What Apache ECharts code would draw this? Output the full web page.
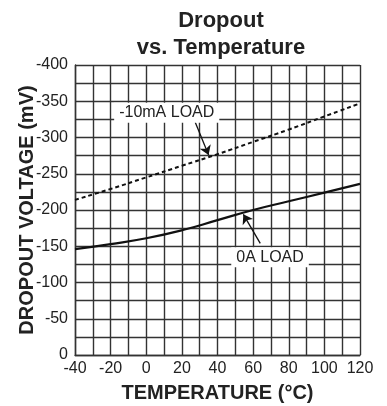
<!DOCTYPE html>
<html>
<head>
<meta charset="utf-8">
<script src="https://cdn.jsdelivr.net/npm/echarts@6/dist/echarts.min.js"></script>
<style>
  html, body { margin: 0; padding: 0; background: #fff; }
  #chart { width: 387px; height: 406px; }
</style>
</head>
<body>
<div id="chart"></div>
<script>
// temperatures (°C)
const temps = [-40, -20, 0, 20, 40, 60, 80, 100, 120];
// dropout voltage (mV)
const load10mA = [-214, -229, -245, -261, -277, -294, -311, -329, -347];
const load0A = [-146, -153, -161, -172, -186, -200, -212, -224, -236];

const FONT = 'Liberation Sans, Arial, sans-serif';

function pairs(xs, ys) {
    return xs.map((x, i) => [x, ys[i]]);
}

function arrow(from, to) {
    return [{ coord: from, symbol: 'none' }, { coord: to, symbol: 'arrow' }];
}

function tag(text, at) {
    return {
        coord: at,
        symbol: 'rect',
        symbolSize: 0,
        label: {
            show: true,
            formatter: text,
            position: 'inside',
            color: '#222',
            fontFamily: FONT,
            fontSize: 16,
            backgroundColor: '#fff',
            padding: [2, 5]
        }
    };
}

let myChart = echarts.init(document.getElementById('chart'));
myChart.setOption({
    animation: false,
    title: {
        text: 'Dropout\nvs. Temperature',
        left: 216,
        top: 2,
        textAlign: 'center',
        textStyle: { fontFamily: FONT, fontWeight: 'bold', fontSize: 22, lineHeight: 27, color: '#222' }
    },
    grid: { left: 75, right: 27, top: 65, bottom: 51, outerBoundsMode: 'none' },
    xAxis: {
        type: 'value',
        min: -40, max: 120, interval: 20,
        name: 'TEMPERATURE (°C)',
        nameLocation: 'middle',
        nameGap: 28,
        nameMoveOverlap: false,
        nameTextStyle: { fontFamily: FONT, fontWeight: 'bold', fontSize: 20, color: '#222' },
        axisLine: { show: true, onZero: false, lineStyle: { color: '#333', width: 1.4 } },
        axisTick: { show: false },
        axisLabel: { fontFamily: FONT, fontSize: 16, color: '#222', margin: 6 },
        splitLine: { show: true, lineStyle: { color: '#333', width: 1.4 } },
        minorTick: { show: false, splitNumber: 2 },
        minorSplitLine: { show: true, lineStyle: { color: '#333', width: 1.4 } }
    },
    yAxis: {
        type: 'value',
        inverse: true,
        min: -400, max: 0, interval: 50,
        name: 'DROPOUT VOLTAGE (mV)',
        nameLocation: 'middle',
        nameRotate: 90,
        nameGap: 38,
        nameMoveOverlap: false,
        nameTextStyle: { fontFamily: FONT, fontWeight: 'bold', fontSize: 20, color: '#222' },
        axisLine: { show: true, onZero: false, lineStyle: { color: '#333', width: 1.4 } },
        axisTick: { show: false },
        axisLabel: { fontFamily: FONT, fontSize: 16, color: '#222', margin: 7 },
        splitLine: { show: true, lineStyle: { color: '#333', width: 1.4 } },
        minorTick: { show: false, splitNumber: 2 },
        minorSplitLine: { show: true, lineStyle: { color: '#333', width: 1.4 } }
    },
    series: [
        {
            name: '-10mA LOAD',
            type: 'line',
            smooth: true,
            showSymbol: false,
            data: pairs(temps, load10mA),
            lineStyle: { color: '#111', width: 2, type: [4, 3] },
            markLine: {
                silent: true,
                symbolSize: 9,
                lineStyle: { color: '#111', width: 1.3, type: 'solid' },
                label: { show: false },
                data: [arrow([27.5, -321], [35, -276])]
            },
            markPoint: { data: [tag('-10mA LOAD', [11.5, -334])] }
        },
        {
            name: '0A LOAD',
            type: 'line',
            smooth: true,
            showSymbol: false,
            data: pairs(temps, load0A),
            lineStyle: { color: '#111', width: 2.2 },
            markLine: {
                silent: true,
                symbolSize: 9,
                lineStyle: { color: '#111', width: 1.3, type: 'solid' },
                label: { show: false },
                data: [arrow([64, -154], [54.5, -194])]
            },
            markPoint: { data: [tag('0A LOAD', [69.5, -135])] }
        }
    ]
});
</script>
</body>
</html>
